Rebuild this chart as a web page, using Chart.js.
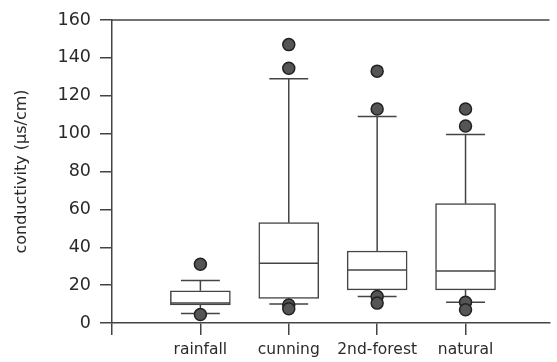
<!DOCTYPE html>
<html>
<head>
<meta charset="utf-8">
<script src="https://cdn.jsdelivr.net/npm/chart.js@4"></script>
<style>
  html, body { margin: 0; padding: 0; background: #fff; }
  #wrap { width: 557px; height: 362px; }
</style>
</head>
<body>
<div id="wrap"><canvas id="boxChart"></canvas></div>
<script>
// box plot values
const categories = ['rainfall', 'cunning', '2nd-forest', 'natural'];
const whiskerLow = [5, 10, 14, 11];
const q1 = [9.5, 13, 17.5, 17.5];
const median = [10.5, 31.5, 28, 27.5];
const q3 = [17, 53, 38, 63];
const whiskerHigh = [22.5, 129, 109, 99.5];
const outliers = [
    [31, 4.5],
    [147, 134.5, 9.5, 7.5],
    [133, 113, 14, 10.5],
    [113, 104, 11, 7]
];
const yTicks = [0, 20, 40, 60, 80, 100, 120, 140, 160];

const lineColor = '#444';
const textColor = '#2a2a2a';

const boxData = categories.map((c, i) => ({ x: i + 1, y: [q1[i], q3[i]] }));
const outlierData = [];
outliers.forEach((list, i) => {
    list.forEach(v => outlierData.push({ x: i + 1, y: v }));
});

// whiskers, caps and medians
const whiskerPlugin = {
    id: 'whiskers',
    afterDatasetDraw(chart, args) {
        if (args.meta.type !== 'bar') return;
        const xs = chart.scales.x;
        const ys = chart.scales.y;
        const ctx = chart.ctx;
        ctx.save();
        ctx.strokeStyle = lineColor;
        ctx.lineWidth = 1.5;
        categories.forEach((c, i) => {
            const cx = xs.getPixelForValue(i + 1);
            const capL = xs.getPixelForValue(i + 1 - 0.22);
            const capR = xs.getPixelForValue(i + 1 + 0.22);
            const boxL = xs.getPixelForValue(i + 1 - 0.335);
            const boxR = xs.getPixelForValue(i + 1 + 0.335);
            ctx.beginPath();
            // upper whisker
            ctx.moveTo(cx, ys.getPixelForValue(q3[i]));
            ctx.lineTo(cx, ys.getPixelForValue(whiskerHigh[i]));
            ctx.moveTo(capL, ys.getPixelForValue(whiskerHigh[i]));
            ctx.lineTo(capR, ys.getPixelForValue(whiskerHigh[i]));
            // lower whisker
            ctx.moveTo(cx, ys.getPixelForValue(q1[i]));
            ctx.lineTo(cx, ys.getPixelForValue(whiskerLow[i]));
            ctx.moveTo(capL, ys.getPixelForValue(whiskerLow[i]));
            ctx.lineTo(capR, ys.getPixelForValue(whiskerLow[i]));
            // median
            ctx.moveTo(boxL, ys.getPixelForValue(median[i]));
            ctx.lineTo(boxR, ys.getPixelForValue(median[i]));
            ctx.stroke();
        });
        ctx.restore();
    },
    afterDraw(chart) {
        // top frame line
        const area = chart.chartArea;
        const ctx = chart.ctx;
        ctx.save();
        ctx.strokeStyle = lineColor;
        ctx.lineWidth = 1.5;
        ctx.beginPath();
        ctx.moveTo(area.left, area.top);
        ctx.lineTo(area.right, area.top);
        ctx.stroke();
        ctx.restore();
    }
};

new Chart(document.getElementById('boxChart'), {
    type: 'bar',
    data: {
        datasets: [
            {
                type: 'bar',
                data: boxData,
                backgroundColor: '#fff',
                borderColor: lineColor,
                borderWidth: 1.5,
                borderSkipped: false,
                barThickness: 60,
                order: 2
            },
            {
                type: 'scatter',
                data: outlierData,
                pointRadius: 6,
                pointBackgroundColor: '#555',
                pointBorderColor: '#222',
                pointBorderWidth: 1.5,
                order: 1
            }
        ]
    },
    options: {
        responsive: true,
        maintainAspectRatio: false,
        animation: false,
        layout: { padding: { top: 20, right: -6, left: 0, bottom: 0 } },
        plugins: {
            legend: { display: false },
            tooltip: { enabled: false }
        },
        scales: {
            x: {
                type: 'linear',
                min: 0,
                max: 4.95,
                offset: false,
                afterBuildTicks: axis => {
                    axis.ticks = [0, 1, 2, 3, 4].map(v => ({ value: v }));
                },
                afterFit: axis => { axis.height = 39; },
                grid: {
                    offset: false,
                    drawOnChartArea: false,
                    drawTicks: true,
                    tickLength: 12,
                    color: lineColor,
                    lineWidth: 1.5
                },
                border: { display: true, color: lineColor, width: 1.5 },
                ticks: {
                    autoSkip: false,
                    maxRotation: 0,
                    padding: 6,
                    color: textColor,
                    font: { family: 'DejaVu Sans', size: 15.5 },
                    callback: v => categories[v - 1] || ''
                }
            },
            y: {
                min: 0,
                max: 160,
                afterBuildTicks: axis => {
                    axis.ticks = yTicks.map(v => ({ value: v }));
                },
                afterFit: axis => { axis.width = 112; },
                grid: {
                    drawOnChartArea: false,
                    drawTicks: true,
                    tickLength: 12,
                    color: lineColor,
                    lineWidth: 1.5
                },
                border: { display: true, color: lineColor, width: 1.5 },
                ticks: {
                    padding: 9,
                    color: textColor,
                    font: { family: 'DejaVu Sans', size: 17.5 }
                },
                title: {
                    display: true,
                    text: 'conductivity (µs/cm)',
                    color: textColor,
                    font: { family: 'DejaVu Sans', size: 16 },
                    padding: { top: 12, bottom: 0 }
                }
            }
        }
    },
    plugins: [whiskerPlugin]
});
</script>
</body>
</html>
